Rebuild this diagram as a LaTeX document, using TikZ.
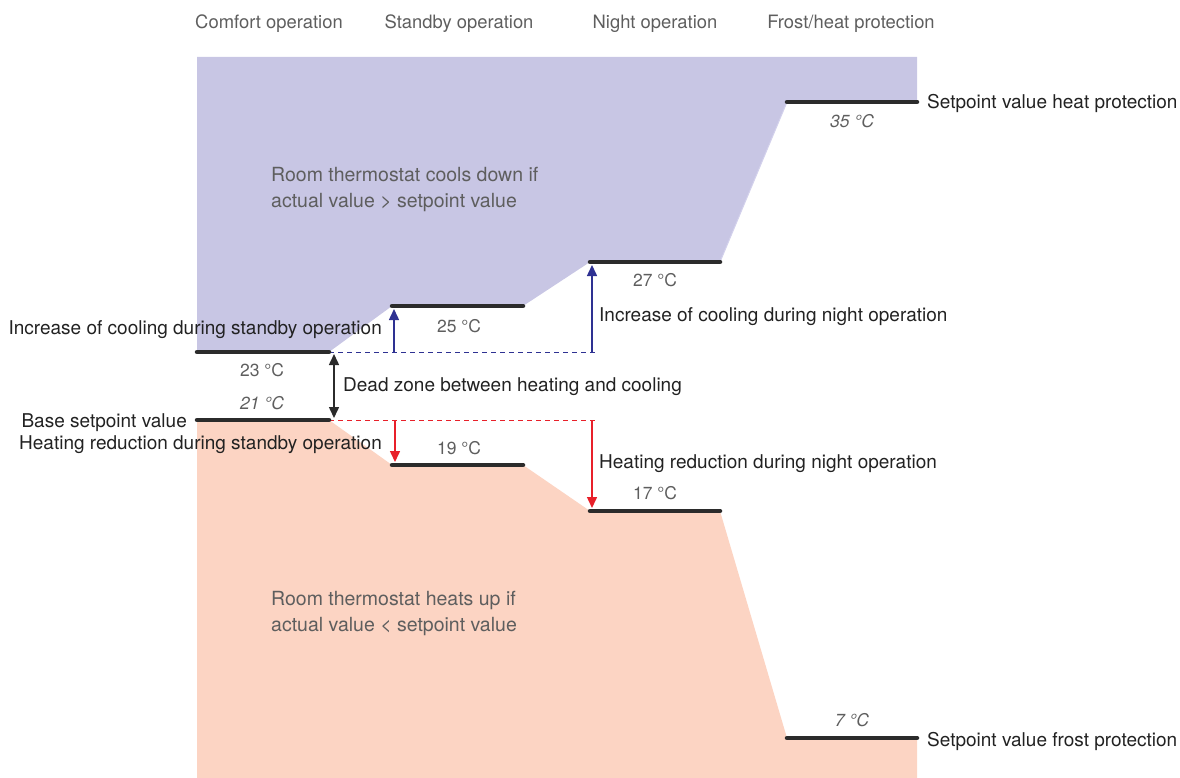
\documentclass[tikz,border=0pt]{standalone}
\usepackage{fontspec}
\setmainfont{TeX Gyre Heros}
\usetikzlibrary{arrows.meta}
\definecolor{cool}{HTML}{C8C6E4}
\definecolor{cooledge}{HTML}{D3D1EC}
\definecolor{heat}{HTML}{FCD4C3}
\definecolor{lvl}{HTML}{2B2B2B}
\definecolor{blu}{HTML}{2E3192}
\definecolor{rd}{HTML}{E8202A}
\definecolor{txt}{HTML}{222222}
\definecolor{lite}{HTML}{5E5E5E}
\begin{document}
\begin{tikzpicture}[x=1pt,y=-1pt,
  level/.style={line width=4.5pt,color=lvl,line cap=round},
  lab/.style={font=\fontsize{19}{22}\selectfont, text=txt, inner sep=0pt, yshift=-2pt},
  head/.style={font=\fontsize{18.4}{22}\selectfont, text=lite, inner sep=0pt, yshift=-2pt},
  inner/.style={font=\fontsize{19.5}{26}\selectfont, text=lite, inner sep=0pt, align=left, yshift=-2pt},
  temp/.style={font=\fontsize{17.5}{20}\selectfont, text=lite, inner sep=0pt, yshift=-1pt},
  itemp/.style={font=\fontsize{17.5}{20}\selectfont\itshape, text=lite, inner sep=0pt, yshift=-1pt},
  bluarr/.style={blu, line width=1.5pt, -{Triangle[length=11pt,width=10pt]}},
  redarr/.style={rd, line width=1.5pt, -{Triangle[length=11pt,width=10pt]}},
  blkarr/.style={lvl, line width=1.5pt, {Triangle[length=11pt,width=10pt]}-{Triangle[length=11pt,width=10pt]}},
  bludash/.style={blu, line width=1pt, dash pattern=on 5pt off 4pt},
  reddash/.style={rd, line width=1pt, dash pattern=on 5pt off 4pt}
]
\useasboundingbox (0,0) rectangle (1180,778);

% level coordinates
\coordinate (c23a) at (197,352); \coordinate (c23b) at (329,352);
\coordinate (c25a) at (392,306); \coordinate (c25b) at (523,306);
\coordinate (c27a) at (590,262); \coordinate (c27b) at (720,262);
\coordinate (c35a) at (787,102); \coordinate (c35b) at (917,102);
\coordinate (c21a) at (197,420); \coordinate (c21b) at (329,420);
\coordinate (c19a) at (392,465); \coordinate (c19b) at (523,465);
\coordinate (c17a) at (590,511); \coordinate (c17b) at (720,511);
\coordinate (c7a)  at (787,738); \coordinate (c7b)  at (917,738);

% regions
\fill[cool] (197,57) -- (917,57) -- (c35b) -- (c35a) -- (c27b) -- (c27a) -- (c25b) -- (c25a) -- (c23b) -- (c23a) -- cycle;
\draw[cooledge, line width=1pt] (c35a) -- (c27b);
\fill[heat] (c21a) -- (c21b) -- (c19a) -- (c19b) -- (c17a) -- (c17b) -- (c7a) -- (c7b) -- (917,778) -- (197,778) -- cycle;

% dashed guides
\coordinate (bd0) at (329,352); \coordinate (bd1) at (597,352);
\coordinate (rd0) at (329,420); \coordinate (rd1) at (597,420);
\draw[bludash] (bd0) -- (bd1);
\draw[reddash] (rd0) -- (rd1);

% arrows
\coordinate (ab1s) at (394,352); \coordinate (ab1e) at (394,309);
\coordinate (ab2s) at (592,352); \coordinate (ab2e) at (592,265);
\draw[bluarr] (ab1s) -- (ab1e);
\draw[bluarr] (ab2s) -- (ab2e);
\coordinate (ak1) at (334,354); \coordinate (ak2) at (334,418);
\draw[blkarr] (ak1) -- (ak2);
\coordinate (ar1s) at (395,420); \coordinate (ar1e) at (395,462);
\coordinate (ar2s) at (592,420); \coordinate (ar2e) at (592,508);
\draw[redarr] (ar1s) -- (ar1e);
\draw[redarr] (ar2s) -- (ar2e);

% levels
\draw[level] (c23a) -- (c23b);
\draw[level] (c25a) -- (c25b);
\draw[level] (c27a) -- (c27b);
\draw[level] (c35a) -- (c35b);
\draw[level] (c21a) -- (c21b);
\draw[level] (c19a) -- (c19b);
\draw[level] (c17a) -- (c17b);
\draw[level] (c7a) -- (c7b);

% headers
\node[head] (h1) at (269,22) {Comfort operation};
\node[head] (h2) at (459,22) {Standby operation};
\node[head] (h3) at (655,22) {Night operation};
\node[head] (h4) at (851,22) {Frost/heat protection};

% inner texts
\node[inner, anchor=west] (tcool) at (271,187) {Room thermostat cools down if\\actual value > setpoint value};
\node[inner, anchor=west] (theat) at (271,611) {Room thermostat heats up if\\actual value < setpoint value};

% temperatures
\node[itemp] (t35) at (852,120) {35 °C};
\node[temp] (t27) at (655,279) {27 °C};
\node[temp] (t25) at (459,325) {25 °C};
\node[temp] (t23) at (262,369) {23 °C};
\node[itemp] (t21) at (262,402) {21 °C};
\node[temp] (t19) at (459,447) {19 °C};
\node[temp] (t17) at (655,492) {17 °C};
\node[itemp] (t7) at (852,719) {7 °C};

% labels
\node[lab, anchor=west] (l35) at (927,101) {Setpoint value heat protection};
\node[lab, anchor=west] (l7) at (927,739) {Setpoint value frost protection};
\node[lab, anchor=east] (lcs) at (382,328) {Increase of cooling during standby operation};
\node[lab, anchor=west] (lcn) at (599,315) {Increase of cooling during night operation};
\node[lab, anchor=west] (ldz) at (343,385) {Dead zone between heating and cooling};
\node[lab, anchor=east] (lbs) at (187,421) {Base setpoint value};
\node[lab, anchor=east] (lhs) at (382,443) {Heating reduction during standby operation};
\node[lab, anchor=west] (lhn) at (599,462) {Heating reduction during night operation};
\end{tikzpicture}
\end{document}
